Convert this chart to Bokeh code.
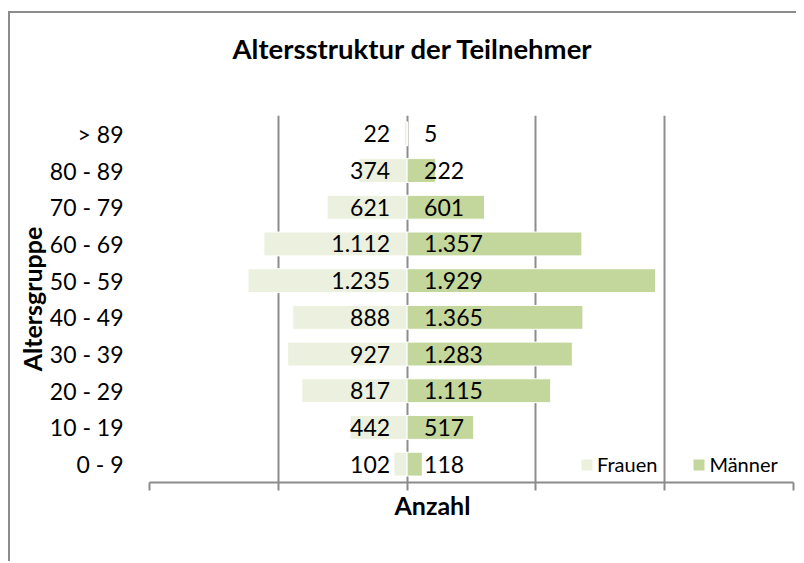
from bokeh.plotting import figure
from bokeh.models import (FixedTicker, Legend, LegendItem, ColumnDataSource,
                          FactorRange, Range1d, Title, LinearAxis)
from bokeh.core.properties import value
from bokeh.embed import file_html
from bokeh.resources import INLINE

# ---- data ----
age_groups = ["0 - 9", "10 - 19", "20 - 29", "30 - 39", "40 - 49",
              "50 - 59", "60 - 69", "70 - 79", "80 - 89", "> 89"]
frauen = [102, 442, 817, 927, 888, 1235, 1112, 621, 374, 22]
maenner = [118, 517, 1115, 1283, 1365, 1929, 1357, 601, 222, 5]
x_ticks = [-2000, -1000, 0, 1000, 2000, 3000]
series_names = ["Frauen", "Männer"]
title_text = "Altersstruktur der Teilnehmer"
x_title = "Anzahl"
y_title = "Altersgruppe"


def de(n):
    return f"{n:,}".replace(",", ".")


src = ColumnDataSource(dict(
    age=age_groups,
    f_left=[-v for v in frauen],
    zero=[0] * len(age_groups),
    m_right=maenner,
    f_lab=[de(v) for v in frauen],
    m_lab=[de(v) for v in maenner],
))

FONT = "Lato"
GRID = "#8c8c8c"

p = figure(frame_width=644, frame_height=367,
           y_range=FactorRange(*age_groups),
           x_range=Range1d(x_ticks[0], x_ticks[-1]),
           output_backend="svg", toolbar_location=None,
           min_border_left=139, min_border_right=3,
           min_border_top=102, min_border_bottom=79)
p.styles = {"border-top": "2px solid #8c8c8c", "border-left": "2px solid #8c8c8c",
            "margin-top": "11px", "margin-left": "8px"}
p.outline_line_color = None
p.background_fill_color = "white"
p.border_fill_color = "white"

# invisible spacer between frame and chart title
spacer = LinearAxis(ticker=FixedTicker(ticks=[0]), axis_line_color=None,
                    major_tick_out=51, major_tick_in=0, major_tick_line_color=None,
                    minor_tick_line_color=None, major_label_standoff=0,
                    major_label_overrides={0: ""})
p.add_layout(spacer, "above")

# chart title
p.title.text = title_text
p.title.align = "left"
p.title.offset = 83
p.title.standoff = 0
p.title.text_font = FONT
p.title.text_font_style = "bold"
p.title.text_font_size = "27.5px"
p.title.text_color = "black"

# grid
p.xgrid.ticker = FixedTicker(ticks=x_ticks)
p.xgrid.grid_line_color = GRID
p.xgrid.grid_line_width = 2
p.ygrid.grid_line_color = None

# x axis (ticks only, no labels)
xax = p.below[0]
xax.ticker = FixedTicker(ticks=x_ticks)
xax.axis_line_color = GRID
xax.axis_line_width = 2
xax.major_tick_line_color = GRID
xax.major_tick_line_width = 2
xax.major_tick_out = 8
xax.major_tick_in = 0
xax.minor_tick_line_color = None
xax.major_label_overrides = {t: "" for t in x_ticks}
xax.major_label_standoff = 0

# y axis
p.yaxis.axis_line_color = None
p.yaxis.major_tick_line_color = None
p.yaxis.minor_tick_line_color = None
p.yaxis.major_tick_out = 0
p.yaxis.major_label_standoff = 26
p.yaxis.major_label_text_font = FONT
p.yaxis.major_label_text_font_size = "23px"
p.yaxis.major_label_text_color = "black"
p.yaxis.axis_label = y_title
p.yaxis.axis_label_text_font = FONT
p.yaxis.axis_label_text_font_style = "bold"
p.yaxis.axis_label_text_font_size = "25px"
p.yaxis.axis_label_text_color = "black"
p.yaxis.axis_label_standoff = 0

# bars
rf = p.hbar(y="age", left="f_left", right="zero", height=0.65, source=src,
            fill_color="#EBF1DE", line_color="white", line_width=1)
rm = p.hbar(y="age", left="zero", right="m_right", height=0.65, source=src,
            fill_color="#C3D69B", line_color="white", line_width=1)

# data labels
p.text(x="zero", y="age", text="f_lab", x_offset=-17, source=src,
       text_align="right", text_baseline="middle", text_font=value(FONT),
       text_font_size="23px", text_color="black")
p.text(x="zero", y="age", text="m_lab", x_offset=17, source=src,
       text_align="left", text_baseline="middle", text_font=value(FONT),
       text_font_size="23px", text_color="black")

# x-axis title
p.add_layout(Title(text=x_title, align="left", offset=245, standoff=-6, text_font=FONT,
                   text_font_style="bold", text_font_size="25px", text_color="black"),
             "below")

# legend (inside the empty lower-right part of the plot area)
legend = Legend(items=[LegendItem(label=series_names[0], renderers=[rf]),
                       LegendItem(label=series_names[1], renderers=[rm])],
                orientation="horizontal", location=(430, 6),
                glyph_width=15, glyph_height=15, label_height=15, label_width=60,
                label_standoff=3, spacing=34, padding=0, margin=0,
                border_line_color=None, background_fill_alpha=0,
                label_text_font=FONT, label_text_font_size="20px",
                label_text_color="black")
p.add_layout(legend)

open("out.html", "w").write(file_html(p, INLINE))
